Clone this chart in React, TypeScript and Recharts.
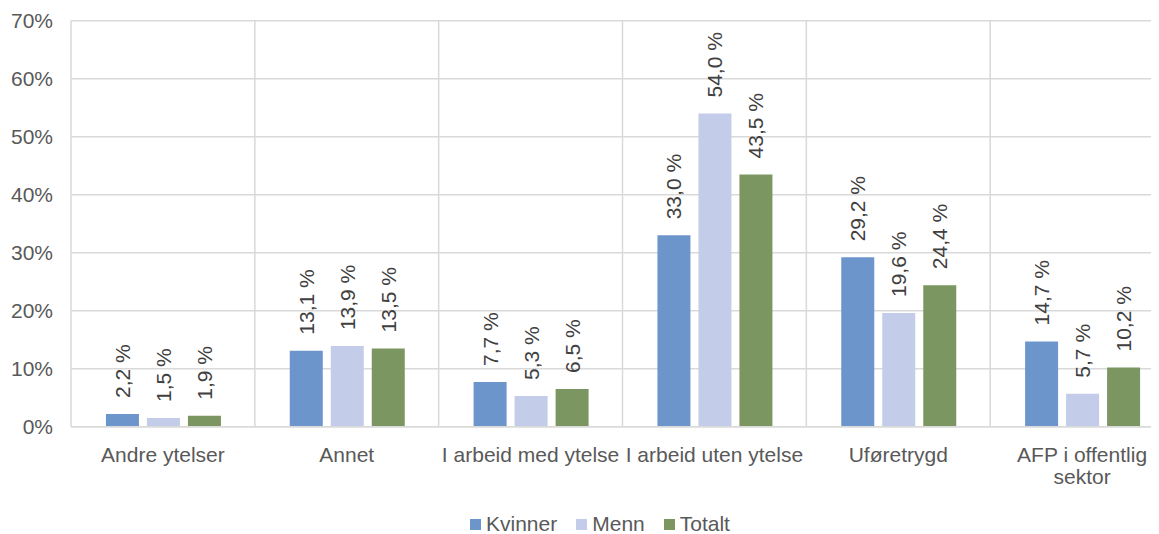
import React from 'react';
import { BarChart, Bar, XAxis, YAxis, CartesianGrid, Legend, LabelList } from 'recharts';

const categories = ['Andre ytelser', 'Annet', 'I arbeid med ytelse', 'I arbeid uten ytelse', 'Uføretrygd', 'AFP i offentlig sektor'];
const kvinner = [2.2, 13.1, 7.7, 33.0, 29.2, 14.7];
const menn = [1.5, 13.9, 5.3, 54.0, 19.6, 5.7];
const totalt = [1.9, 13.5, 6.5, 43.5, 24.4, 10.2];
const yTicks = [0, 10, 20, 30, 40, 50, 60, 70];
const seriesNames = ['Kvinner', 'Menn', 'Totalt'];
const seriesColors = ['#6C95CB', '#C3CCE8', '#7B9660'];

const data = categories.map((c, i) => ({ name: c, Kvinner: kvinner[i], Menn: menn[i], Totalt: totalt[i] }));

const FONT = '"Liberation Sans", Arial, sans-serif';
const AXIS_COLOR = '#595959';
const GRID = '#d9d9d9';

const fmt = (v: number) => v.toFixed(1).replace('.', ',') + ' %';

const splitLabel = (s: string): string[] => {
  if (s.length <= 20) return [s];
  const idx = s.lastIndexOf(' ', 20);
  return [s.slice(0, idx), s.slice(idx + 1)];
};

const XTick = (props: any) => {
  const { x, y, payload } = props;
  const lines = splitLabel(String(payload.value));
  return (
    <text x={x} y={y + 33} textAnchor="middle" fill={AXIS_COLOR} fontSize={21} fontFamily={FONT}>
      {lines.map((l, i) => (
        <tspan key={i} x={x} dy={i === 0 ? 0 : 22}>{l}</tspan>
      ))}
    </text>
  );
};

const BarLabel = (props: any) => {
  const { x, y, width, value } = props;
  const cx = x + width / 2;
  const cy = y - 16;
  return (
    <text
      x={cx}
      y={cy}
      transform={`rotate(-90, ${cx}, ${cy})`}
      textAnchor="start"
      dominantBaseline="central"
      fill="#404040"
      fontSize={21}
      fontFamily={FONT}
    >
      {fmt(Number(value))}
    </text>
  );
};

const LegendContent = () => (
  <div style={{ display: 'flex', paddingLeft: 462, height: 24, lineHeight: '24px', fontFamily: FONT, fontSize: 21, color: AXIS_COLOR }}>
    {seriesNames.map((n, i) => (
      <div key={n} style={{ display: 'flex', alignItems: 'center', marginRight: 19 }}>
        <div style={{ width: 11, height: 11, background: seriesColors[i], marginRight: 5 }} />
        <span>{n}</span>
      </div>
    ))}
  </div>
);

export default function App() {
  return (
    <div style={{ width: 1151, height: 526, overflow: 'hidden' }}>
      <BarChart
        width={1166}
        height={526}
        data={data}
        margin={{ top: 12.7, right: 0, bottom: 0, left: 0 }}
        barCategoryGap="19%"
        barGap={8}
      >
        <CartesianGrid
          stroke={GRID}
          strokeWidth={1.5}
          verticalCoordinatesGenerator={({ offset }: any) =>
            categories.map((_, i) => offset.left + (i * offset.width) / categories.length).concat([offset.left + offset.width])
          }
        />
        <XAxis
          dataKey="name"
          height={83.3}
          tick={<XTick />}
          tickLine={false}
          tickSize={0}
          axisLine={{ stroke: GRID, strokeWidth: 1.5 }}
          interval={0}
        />
        <YAxis
          width={63}
          domain={[0, 70]}
          ticks={yTicks}
          tickFormatter={(v: number) => `${v}%`}
          tick={{ fill: AXIS_COLOR, fontSize: 21, fontFamily: FONT }}
          tickLine={false}
          axisLine={false}
          tickSize={0}
          tickMargin={18}
        />
        <Legend verticalAlign="bottom" content={<LegendContent />} wrapperStyle={{ left: 0, bottom: -2, width: 1166, height: 24 }} />
        {seriesNames.map((n, i) => (
          <Bar key={n} dataKey={n} fill={seriesColors[i]} isAnimationActive={false}>
            <LabelList dataKey={n} content={<BarLabel />} />
          </Bar>
        ))}
      </BarChart>
    </div>
  );
}
